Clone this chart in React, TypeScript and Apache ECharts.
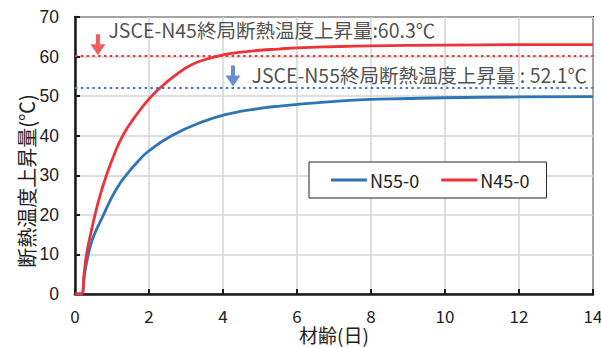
import React, { useEffect, useRef } from "react";
import * as echarts from "echarts";

// N45-0 (red) adiabatic temperature rise
const days45 = [0, 0.17, 0.25, 0.31, 0.42, 0.54, 0.68, 0.85, 1.05, 1.29, 1.6, 2, 2.3, 2.7, 3.1, 3.5, 4, 4.5, 5, 5.5, 6, 7, 8, 10, 12, 14];
const vals45 = [0, 0, 5.5, 10, 15, 20, 25, 30, 35, 40, 44.5, 49.3, 52.1, 55.2, 57.7, 59.2, 60.4, 61.1, 61.6, 61.9, 62.2, 62.5, 62.7, 62.9, 63.0, 63.0];

// N55-0 (blue)
const days55 = [0, 0.17, 0.25, 0.36, 0.5, 0.77, 0.95, 1.15, 1.38, 1.7, 2, 2.61, 3.38, 4.19, 5, 5.54, 6.5, 7.8, 9, 10, 12, 14];
const vals55 = [0, 0, 4.5, 10, 14.5, 20, 23.6, 27, 30, 33.5, 36.2, 40, 43.3, 45.6, 46.9, 47.5, 48.3, 49.1, 49.4, 49.6, 49.8, 49.9];

// JSCE ultimate adiabatic temperature rise
const jsceN45 = 60.3;
const jsceN55 = 52.1;

// annotation arrows (center positions in data units)
const arrowX = [0.62, 4.27];
const arrowY = [63.0, 55.1];
const arrowTexts = ["JSCE-N45終局断熱温度上昇量:60.3℃", "JSCE-N55終局断熱温度上昇量 : 52.1℃"];

const seriesNames = ["N55-0", "N45-0"];

const RED = "#EE3338";
const BLUE = "#2E75B6";
const DOT_BLUE = "#4472C4";
const JP = "'Noto Sans CJK JP', 'Noto Sans', sans-serif";
const ARROW = "path://M5.5,0L9.5,0L9.5,10L15,10L7.5,21L0,10L5.5,10Z";

export default function App() {
  const ref = useRef<HTMLDivElement>(null);
  useEffect(() => {
    if (!ref.current) return;
    const chart = echarts.init(ref.current, undefined, { renderer: "svg" });
    const zip = (xs: number[], ys: number[]) => xs.map((x, i) => [x, ys[i]]);
    chart.setOption({
      animation: false,
      backgroundColor: "#fff",
      grid: {
        left: 75, right: 8, top: 17, bottom: 53,
        outerBoundsMode: "none",
        containLabel: false,
        show: true, borderColor: "#1a1a1a", borderWidth: 2, backgroundColor: "transparent",
      },
      legend: {
        data: seriesNames,
        left: 309, top: 162,
        orient: "horizontal",
        backgroundColor: "#fff",
        borderColor: "#222", borderWidth: 1, borderRadius: 0,
        padding: [9, 17, 9, 22],
        icon: "rect",
        itemWidth: 36, itemHeight: 3, itemGap: 22,
        textStyle: { fontFamily: JP, fontSize: 18, color: "#222", padding: [0, 0, 0, -2] },
      },
      xAxis: {
        type: "value", min: 0, max: 14, interval: 2,
        name: "材齢(日)", nameLocation: "middle", nameGap: 31,
        nameMoveOverlap: false,
        nameTextStyle: { fontFamily: JP, fontSize: 19, color: "#222" },
        axisLine: { show: true, onZero: false, lineStyle: { color: "#1a1a1a", width: 2.5 } },
        axisTick: { show: true, inside: true, length: 5, lineStyle: { color: "#1a1a1a", width: 2 } },
        axisLabel: { margin: 13, fontFamily: JP, fontSize: 17, color: "#222" },
        splitLine: { show: true, lineStyle: { color: "#d4d4d4", width: 1.5 } },
      },
      yAxis: {
        type: "value", min: 0, max: 70, interval: 10,
        axisLine: { show: true, lineStyle: { color: "#1a1a1a", width: 2.5 } },
        axisTick: { show: true, inside: true, length: 5, lineStyle: { color: "#1a1a1a", width: 2 } },
        axisLabel: { margin: 16, fontFamily: "'Liberation Sans', Arial, sans-serif", fontSize: 17.5, color: "#222" },
        splitLine: { show: true, lineStyle: { color: "#d4d4d4", width: 1.5 } },
      },
      graphic: [
        {
          type: "text",
          x: 26, y: 181,
          rotation: Math.PI / 2,
          style: {
            text: "断熱温度上昇量(℃)",
            fontFamily: JP, fontSize: 20, fill: "#222",
            align: "center", verticalAlign: "middle",
          },
        },
      ],
      series: [
        {
          name: seriesNames[0],
          type: "line",
          data: zip(days55, vals55),
          symbol: "none",
          smooth: 0.5,
          lineStyle: { color: BLUE, width: 2.8 },
          itemStyle: { color: BLUE },
          z: 3,
          markLine: {
            silent: true, symbol: "none", label: { show: false },
            lineStyle: { color: DOT_BLUE, width: 2.2, type: [2.4, 3.4] },
            data: [{ yAxis: jsceN55 }],
          },
        },
        {
          name: seriesNames[1],
          type: "line",
          data: zip(days45, vals45),
          symbol: "none",
          smooth: 0.5,
          lineStyle: { color: RED, width: 2.8 },
          itemStyle: { color: RED },
          z: 4,
          markLine: {
            silent: true, symbol: "none", label: { show: false },
            lineStyle: { color: RED, width: 2.2, type: [2.4, 3.4] },
            data: [{ yAxis: jsceN45 }],
          },
        },
        {
          name: "arrows",
          type: "scatter",
          symbol: ARROW,
          symbolSize: [15, 21],
          z: 5,
          data: [
            {
              value: [arrowX[0], arrowY[0]],
              itemStyle: { color: RED },
              label: {
                show: true, position: "right", distance: 3, offset: [0, -15],
                formatter: arrowTexts[0], fontFamily: JP, fontSize: 19.5, color: "#222",
              },
            },
            {
              value: [arrowX[1], arrowY[1]],
              itemStyle: { color: DOT_BLUE },
              label: {
                show: true, position: "right", distance: 11, offset: [0, -1],
                formatter: arrowTexts[1], fontFamily: JP, fontSize: 19.5, color: "#222",
              },
            },
          ],
        },
      ],
    });
    return () => chart.dispose();
  }, []);
  return <div ref={ref} style={{ width: 601, height: 347, position: "absolute", left: 0, top: 0 }} />;
}
